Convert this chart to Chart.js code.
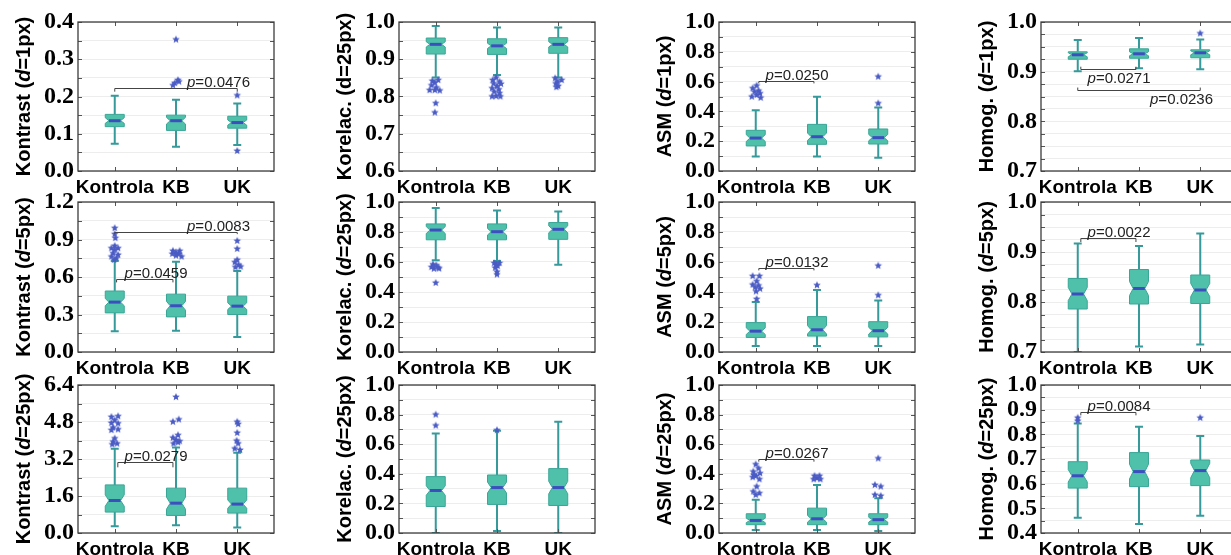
<!DOCTYPE html>
<html><head><meta charset="utf-8">
<script src="https://cdn.jsdelivr.net/npm/chart.js@4.4.1/dist/chart.umd.min.js"></script>
<style>
html,body{margin:0;padding:0;background:#fff;overflow:hidden;width:1231px;height:555px;position:relative;}
canvas{position:absolute;}
</style></head><body>
<script>
// ---------- DATA ----------
const categories = ['Kontrola', 'KB', 'UK'];
// box tuples: [whiskerLow, q1, notchLow, median, notchHigh, q3, whiskerHigh]
// outliers: [categoryIndex, jitter, value]
// p-brackets: [x1, x2, yLine, yTickEnd, textX, textY, pValue]

// Row 1
const kontrast1Box = [[0.073,0.119,0.128,0.135,0.143,0.152,0.202],[0.065,0.109,0.126,0.135,0.144,0.150,0.191],[0.070,0.115,0.123,0.130,0.137,0.147,0.181]];
const kontrast1Out = [[1,0,0.353],[1,0.03,0.244],[1,0.05,0.240],[1,-0.02,0.236],[1,-0.05,0.230],[2,0,0.203],[2,0,0.054]];
const kontrast1P = [[0,2,0.222,0.213,1.18,0.222,'0.0476']];

const korelac1Box = [[0.851,0.914,0.933,0.940,0.947,0.957,0.989],[0.858,0.913,0.929,0.936,0.943,0.955,0.985],[0.851,0.916,0.933,0.940,0.947,0.958,0.985]];
const korelac1Out = [[0,0.04,0.844],[0,-0.055,0.842],[0,-0.015,0.837],[0,-0.07,0.830],[0,0.01,0.824],[0,-0.015,0.817],[0,0.065,0.816],[0,-0.1,0.817],[0,0,0.782],[0,-0.015,0.757],
  [1,-0.015,0.851],[1,-0.07,0.844],[1,0.04,0.840],[1,-0.055,0.835],[1,0.065,0.834],[1,0,0.828],[1,-0.08,0.822],[1,0.03,0.819],[1,-0.045,0.813],[1,0.04,0.809],[1,-0.015,0.801],[1,-0.08,0.800],[1,0.055,0.800],
  [2,-0.05,0.849],[2,0.055,0.844],[2,-0.01,0.840],[2,-0.04,0.835],[2,0,0.828],[2,-0.03,0.825]];
const korelac1P = [];

const asm1Box = [[0.098,0.168,0.198,0.221,0.244,0.273,0.407],[0.098,0.179,0.205,0.230,0.255,0.313,0.499],[0.089,0.181,0.203,0.224,0.245,0.282,0.427]];
const asm1Out = [[0,0.015,0.573],[0,-0.05,0.555],[0,0.045,0.539],[0,-0.02,0.532],[0,0.07,0.521],[0,-0.065,0.499],[0,0.08,0.492],[0,0.015,0.510],[2,0,0.633],[2,0,0.454]];
const asm1P = [[0.05,0.95,0.606,0.588,0.16,0.606,'0.0250']];

const homog1Box = [[0.901,0.925,0.930,0.934,0.938,0.940,0.964],[0.907,0.927,0.932,0.936,0.940,0.946,0.968],[0.905,0.928,0.934,0.938,0.942,0.944,0.965]];
const homog1Out = [[2,0,0.977]];
const homog1P = [[0.05,0.95,0.905,0.910,0.16,0.875,'0.0271'],[0,2,0.863,0.868,1.18,0.833,'0.0236']];

// Row 2
const kontrast5Box = [[0.166,0.313,0.370,0.399,0.428,0.488,0.729],[0.171,0.281,0.335,0.370,0.405,0.463,0.722],[0.121,0.300,0.340,0.367,0.394,0.447,0.648]];
const kontrast5Out = [[0,0,0.991],[0,0,0.943],[0,0.01,0.911],[0,0,0.849],[0,-0.055,0.830],[0,0.055,0.830],[0,0,0.817],[0,-0.027,0.790],[0,0.055,0.777],[0,-0.055,0.763],[0,0.027,0.750],[0,-0.01,0.737],
  [1,-0.05,0.809],[1,0.06,0.809],[1,0,0.796],[1,-0.06,0.785],[1,0.05,0.785],[1,0,0.771],[1,0.09,0.763],
  [2,0,0.889],[2,0,0.825],[2,0,0.737],[2,-0.04,0.718],[2,0.02,0.697],[2,-0.03,0.678],[2,0.055,0.683]];
const kontrast5P = [[0.03,0.95,0.584,0.557,0.16,0.584,'0.0459'],[0,2,0.964,0.943,1.18,0.964,'0.0083']];

const korelac25aBox = [[0.611,0.748,0.790,0.813,0.836,0.854,0.960],[0.607,0.748,0.780,0.802,0.824,0.854,0.944],[0.582,0.751,0.795,0.818,0.841,0.863,0.937]];
const korelac25aOut = [[0,-0.045,0.584],[0,0.01,0.578],[0,-0.07,0.566],[0,0.04,0.562],[0,-0.03,0.555],[0,0.055,0.557],[0,0,0.461],
  [1,-0.045,0.593],[1,0.04,0.593],[1,-0.015,0.584],[1,0.01,0.573],[1,-0.03,0.562],[1,0,0.535],[1,0,0.517]];
const korelac25aP = [];

const asm5Box = [[0.040,0.097,0.117,0.139,0.161,0.196,0.333],[0.040,0.106,0.120,0.148,0.176,0.236,0.413],[0.040,0.101,0.120,0.142,0.164,0.202,0.344]];
const asm5Out = [[0,-0.05,0.506],[0,0.06,0.506],[0,0.015,0.472],[0,-0.05,0.449],[0,0.045,0.443],[0,-0.01,0.431],[0,0.07,0.422],[0,0.005,0.404],[0,0.015,0.353],[1,0,0.445],[2,0,0.575],[2,0,0.378]];
const asm5P = [[0.05,0.95,0.562,0.544,0.16,0.562,'0.0132']];

const homog5Box = [[0.700,0.786,0.803,0.816,0.829,0.847,0.917],[0.711,0.796,0.813,0.827,0.841,0.865,0.912],[0.715,0.797,0.811,0.824,0.837,0.854,0.937]];
const homog5Out = [];
const homog5P = [[0.05,0.95,0.928,0.920,0.16,0.928,'0.0022']];

// Row 3
const kontrast25Box = [[0.287,0.904,1.16,1.406,1.65,2.081,3.645],[0.33,0.76,1.03,1.29,1.55,1.94,3.70],[0.24,0.86,1.07,1.25,1.43,1.94,3.47]];
const kontrast25Out = [[0,-0.055,5.02],[0,0.055,5.05],[0,0,4.88],[0,-0.055,4.76],[0,0.055,4.74],[0,-0.027,4.56],[0,-0.055,4.45],[0,0.055,4.48],[0,0,4.09],[0,-0.027,3.95],[0,0.038,3.87],[0,-0.04,3.83],
  [1,0,5.88],[1,0.045,4.91],[1,-0.05,4.81],[1,0.033,4.23],[1,-0.05,4.12],[1,0,4.02],[1,0.06,3.97],[1,-0.04,3.87],[1,0.033,3.92],
  [2,0,4.81],[2,0.015,4.71],[2,0,4.33],[2,-0.01,3.99],[2,0.015,3.87],[2,-0.04,3.65],[2,0.045,3.59]];
const kontrast25P = [[0.05,0.95,3.09,2.84,0.16,3.09,'0.0279']];

const korelac25bBox = [[0.0,0.179,0.255,0.287,0.319,0.381,0.673],[0.013,0.193,0.270,0.307,0.344,0.392,0.691],[0.0,0.186,0.265,0.307,0.349,0.435,0.751]];
const korelac25bOut = [[0,0,0.800],[0,0,0.726],[1,0,0.695]];
const korelac25bP = [];

const asm25Box = [[0.020,0.056,0.070,0.085,0.100,0.130,0.224],[0.020,0.056,0.073,0.096,0.119,0.168,0.325],[0.013,0.056,0.074,0.090,0.106,0.130,0.235]];
const asm25Out = [[0,0,0.464],[0,0.045,0.437],[0,-0.04,0.415],[0,0.07,0.404],[0,0.005,0.386],[0,-0.05,0.377],[0,0.06,0.363],[0,0.015,0.314],[0,-0.04,0.280],[0,0.06,0.269],[0,0,0.258],[0,-0.03,0.392],
  [1,-0.04,0.386],[1,0.04,0.386],[1,0,0.370],[1,-0.055,0.363],[1,0.055,0.363],
  [2,0,0.504],[2,-0.055,0.325],[2,0.04,0.314],[2,-0.055,0.258],[2,0.04,0.251]];
const asm25P = [[0.05,0.95,0.502,0.482,0.16,0.502,'0.0267']];

const homog25Box = [[0.462,0.582,0.607,0.632,0.657,0.689,0.844],[0.436,0.588,0.619,0.649,0.679,0.726,0.831],[0.470,0.592,0.624,0.653,0.682,0.696,0.793]];
const homog25Out = [[0,0,0.867],[0,0,0.855],[2,0,0.867]];
const homog25P = [[0.05,0.95,0.891,0.877,0.16,0.891,'0.0084']];

// axis titles & ranges
const yTitles = [
  ['Kontrast (d=1px)','Korelac. (d=25px)','ASM (d=1px)','Homog. (d=1px)'],
  ['Kontrast (d=5px)','Korelac. (d=25px)','ASM (d=5px)','Homog. (d=5px)'],
  ['Kontrast (d=25px)','Korelac. (d=25px)','ASM (d=25px)','Homog. (d=25px)']
];
const yRanges = [ // [min, max, majorStep, minorStep]
  [[0,0.4,0.1,0.05],[0.6,1.0,0.1,0.05],[0,1.0,0.2,0.1],[0.7,1.0,0.1,0.025]],
  [[0,1.2,0.3,0.15],[0,1.0,0.2,0.1],[0,1.0,0.2,0.1],[0.7,1.0,0.1,0.025]],
  [[0,6.4,1.6,0.8],[0,1.0,0.2,0.1],[0,1.0,0.2,0.1],[0.4,1.0,0.1,0.05]]
];
const boxes = [[kontrast1Box,korelac1Box,asm1Box,homog1Box],[kontrast5Box,korelac25aBox,asm5Box,homog5Box],[kontrast25Box,korelac25bBox,asm25Box,homog25Box]];
const outs = [[kontrast1Out,korelac1Out,asm1Out,homog1Out],[kontrast5Out,korelac25aOut,asm5Out,homog5Out],[kontrast25Out,korelac25bOut,asm25Out,homog25Out]];
const pvals = [[kontrast1P,korelac1P,asm1P,homog1P],[kontrast5P,korelac25aP,asm5P,homog5P],[kontrast25P,korelac25bP,asm25P,homog25P]];

// ---------- LAYOUT / STYLE ----------
const colLeft = [0, 321, 641, 963];
const rowTop = [0, 180, 363];
const plotH = [149, 150, 148];
const AXW = 78, PT = 22, PW = 196, CW = 321, CH = 200;
const C = {fill:'#4fc1aa', edge:'#3aa696', whisk:'#36999a', median:'#3d4fbe', star:'#4a5bc4', grid:'#ededed', frame:'#3c3c3c', tick:'#555'};
const BOXW = 0.155, NOTCHW = 0.095, CAPW = 0.065;

function makeStar(r, color){
  const s = Math.ceil(r*2)+2, c = document.createElement('canvas');
  c.width = c.height = s;
  const g = c.getContext('2d'); g.fillStyle = color; g.beginPath();
  for (let i=0;i<10;i++){ const rr = i%2 ? r*0.45 : r; const a = -Math.PI/2 + i*Math.PI/5; g.lineTo(s/2+rr*Math.cos(a), s/2+rr*Math.sin(a)); }
  g.closePath(); g.fill(); return c;
}
const starImg = makeStar(4, C.star);

const boxPlugin = {
  id:'boxes',
  beforeDatasetsDraw(chart){
    const bx = chart.options.plugins.boxes.data; if(!bx) return;
    const xs = chart.scales.x, ys = chart.scales.y, ctx = chart.ctx;
    ctx.save();
    const ca = chart.chartArea;
    ctx.beginPath(); ctx.rect(ca.left, ca.top, ca.right-ca.left, ca.bottom-ca.top); ctx.clip();
    bx.forEach((b,i)=>{
      const [lo,q1,nlo,med,nhi,q3,hi] = b;
      const X = v=>xs.getPixelForValue(v), Y = v=>ys.getPixelForValue(v);
      ctx.strokeStyle = C.whisk; ctx.lineWidth = 2;
      ctx.beginPath();
      ctx.moveTo(X(i), Y(q3)); ctx.lineTo(X(i), Y(hi));
      ctx.moveTo(X(i), Y(q1)); ctx.lineTo(X(i), Y(lo));
      ctx.moveTo(X(i-CAPW), Y(hi)); ctx.lineTo(X(i+CAPW), Y(hi));
      ctx.moveTo(X(i-CAPW), Y(lo)); ctx.lineTo(X(i+CAPW), Y(lo));
      ctx.stroke();
      ctx.beginPath();
      ctx.moveTo(X(i-BOXW), Y(q1)); ctx.lineTo(X(i+BOXW), Y(q1));
      ctx.lineTo(X(i+BOXW), Y(nlo)); ctx.lineTo(X(i+NOTCHW), Y(med)); ctx.lineTo(X(i+BOXW), Y(nhi));
      ctx.lineTo(X(i+BOXW), Y(q3)); ctx.lineTo(X(i-BOXW), Y(q3));
      ctx.lineTo(X(i-BOXW), Y(nhi)); ctx.lineTo(X(i-NOTCHW), Y(med)); ctx.lineTo(X(i-BOXW), Y(nlo));
      ctx.closePath();
      ctx.fillStyle = C.fill; ctx.fill();
      ctx.strokeStyle = C.edge; ctx.lineWidth = 1; ctx.stroke();
      ctx.strokeStyle = C.median; ctx.lineWidth = 3;
      ctx.beginPath(); ctx.moveTo(X(i-NOTCHW), Y(med)); ctx.lineTo(X(i+NOTCHW), Y(med)); ctx.stroke();
    });
    ctx.restore();
  }
};

const decorPlugin = {
  id:'decor',
  afterDraw(chart){
    const o = chart.options.plugins.decor, ctx = chart.ctx, ca = chart.chartArea;
    const xs = chart.scales.x, ys = chart.scales.y;
    ctx.save();
    ctx.strokeStyle = C.tick; ctx.lineWidth = 1;
    ctx.beginPath();
    ys.ticks.forEach(t=>{ const y = Math.round(ys.getPixelForValue(t.value))+0.5;
      ctx.moveTo(ca.left, y); ctx.lineTo(ca.left+4, y);
      ctx.moveTo(ca.right, y); ctx.lineTo(ca.right-4, y); });
    [0,1,2].forEach(v=>{ const x = Math.round(xs.getPixelForValue(v))+0.5;
      ctx.moveTo(x, ca.top); ctx.lineTo(x, ca.top+4);
      ctx.moveTo(x, ca.bottom); ctx.lineTo(x, ca.bottom-4); });
    ctx.stroke();
    ctx.strokeStyle = C.frame; ctx.lineWidth = 1.3;
    ctx.strokeRect(ca.left, ca.top, ca.right-ca.left, ca.bottom-ca.top);
    (o.pvals||[]).forEach(p=>{
      const [x1,x2,yl,yt,tx,ty,val] = p;
      const X1 = xs.getPixelForValue(x1), X2 = xs.getPixelForValue(x2), YL = Math.round(ys.getPixelForValue(yl))+0.5, YT = ys.getPixelForValue(yt);
      ctx.strokeStyle = '#444'; ctx.lineWidth = 1;
      ctx.beginPath(); ctx.moveTo(X1, YT); ctx.lineTo(X1, YL); ctx.lineTo(X2, YL); ctx.lineTo(X2, YT); ctx.stroke();
      let x = xs.getPixelForValue(tx); const y = ys.getPixelForValue(ty) - 1;
      ctx.fillStyle = '#222'; ctx.textBaseline = 'alphabetic'; ctx.textAlign = 'left';
      ctx.font = 'italic 15px "Liberation Sans", Arial, sans-serif';
      ctx.fillText('p', x, y); x += ctx.measureText('p').width;
      ctx.font = '15px "Liberation Sans", Arial, sans-serif';
      ctx.fillText('=' + val, x, y);
    });
    const t = o.title, cx = ca.left - 54, cy = (ca.top+ca.bottom)/2;
    const k = t.indexOf('(d=');
    const segs = [[t.slice(0,k+1), false],['d', o.italic],[t.slice(k+2), false]];
    const fnt = it => (it?'italic ':'') + 'bold 20px "Liberation Sans", Arial, sans-serif';
    let total = 0; segs.forEach(s=>{ ctx.font = fnt(s[1]); total += ctx.measureText(s[0]).width; });
    ctx.translate(cx, cy); ctx.rotate(-Math.PI/2);
    ctx.fillStyle = '#000'; ctx.textBaseline = 'middle'; ctx.textAlign = 'left';
    let xx = -total/2;
    segs.forEach(s=>{ ctx.font = fnt(s[1]); ctx.fillText(s[0], xx, 0); xx += ctx.measureText(s[0]).width; });
    ctx.restore();
  }
};

for (let r=0;r<3;r++) for (let c=0;c<4;c++){
  const cv = document.createElement('canvas');
  cv.width = CW; cv.height = CH;
  cv.style.left = colLeft[c]+'px'; cv.style.top = rowTop[r]+'px';
  cv.style.width = CW+'px'; cv.style.height = CH+'px';
  document.body.appendChild(cv);
  const [ymin,ymax,major,minor] = yRanges[r][c];
  const xh = CH - PT - plotH[r];
  new Chart(cv, {
    type:'scatter',
    data:{ datasets:[{
      data: outs[r][c].map(o=>({x:o[0]+o[1], y:o[2]})),
      pointStyle: starImg, pointRadius: 4, showLine:false
    }]},
    options:{
      responsive:false, animation:false, devicePixelRatio:1,
      layout:{padding:{top:PT, right:CW-AXW-PW, left:0, bottom:0}},
      plugins:{ legend:{display:false}, tooltip:{enabled:false},
        boxes:{data: boxes[r][c]},
        decor:{title: yTitles[r][c], italic: !(r===0 && c===1), pvals: pvals[r][c]} },
      scales:{
        x:{ type:'linear', min:-0.6, max:2.6,
          afterBuildTicks: s=>{ s.ticks = [0,1,2].map(v=>({value:v})); },
          afterFit: s=>{ s.height = xh; },
          grid:{display:false}, border:{display:false},
          ticks:{ autoSkip:false, maxRotation:0, padding:-3, color:'#000',
            font:{family:'"Liberation Sans", Arial, sans-serif', size:19, weight:'bold'},
            callback: v => categories[v] } },
        y:{ type:'linear', min:ymin, max:ymax,
          afterBuildTicks: s=>{ const n = Math.round((ymax-ymin)/minor); const t=[]; for(let i=0;i<=n;i++) t.push({value: ymin + i*minor}); s.ticks = t; },
          afterFit: s=>{ s.width = AXW; },
          grid:{color:C.grid, lineWidth:1, drawTicks:false}, border:{display:false},
          ticks:{ autoSkip:false, padding:4, color:'#000',
            font:{family:'"Liberation Serif", "Times New Roman", serif', size:24, weight:'bold'},
            callback: v => { const q = (v-ymin)/major; return Math.abs(q-Math.round(q))<1e-6 ? v.toFixed(1) : ''; } } }
      }
    },
    plugins:[boxPlugin, decorPlugin]
  });
}
</script>
</body></html>
